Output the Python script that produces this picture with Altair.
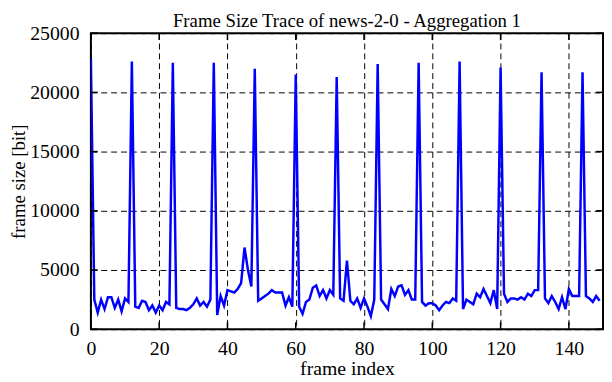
import altair as alt
import pandas as pd

# ---- data ----
frame_size = [
    22900, 2500, 1400, 2500, 1700, 2700, 2700, 1800, 2500, 1500, 2600, 2300,
    22600, 1900, 1800, 2400, 2300, 1600, 2000, 1400, 2000, 1600, 2300, 2100,
    22500, 1800, 1700, 1700, 1600, 1800, 2100, 2600, 2000, 2300, 1900, 2500,
    22500, 1200, 2800, 2000, 3300, 3200, 3100, 3400, 3900, 6900, 5000, 3600,
    22000, 2400, 2600, 2800, 3000, 3300, 3100, 3100, 3100, 2000, 2700, 1900,
    21500, 1900, 1300, 2300, 2500, 3500, 3700, 2800, 3300, 2600, 3300, 2900,
    21300, 2600, 2400, 5800, 2400, 2100, 2600, 1800, 2600, 1900, 1100, 2500,
    22400, 2500, 2100, 1700, 3400, 2800, 3600, 3700, 2900, 3300, 2500, 2500,
    22500, 2300, 2000, 2200, 2200, 2000, 1600, 2000, 2300, 2200, 2600, 2400,
    22600, 1700, 2500, 2300, 2100, 3000, 2700, 3400, 2800, 2200, 3300, 1700,
    22100, 3000, 2300, 2600, 2600, 2500, 2700, 2500, 3000, 2800, 3300, 3300,
    21700, 2600, 2200, 2800, 2300, 1700, 2700, 1700, 3400, 2800, 2800, 2800,
    21700, 2800, 2600, 2300, 2800, 2400,
]
frame_index = list(range(len(frame_size)))
x_ticks = [0, 20, 40, 60, 80, 100, 120, 140]
y_ticks = [0, 5000, 10000, 15000, 20000, 25000]
x_domain = [0, 150]
y_domain = [0, 25000]
title_text = ["Frame Size Trace of news-2-0 - Aggregation 1"]

FONT = "Liberation Serif"
W, H = 519, 300
TICK = 7

df = pd.DataFrame({"frame": frame_index, "size": frame_size})
xt = pd.DataFrame({"frame": x_ticks})
yt = pd.DataFrame({"size": y_ticks})
tt = pd.DataFrame({"title": title_text})

xscale = alt.Scale(domain=x_domain, nice=False, zero=False)
yscale = alt.Scale(domain=y_domain, nice=False)

x_axis = alt.Axis(
    values=x_ticks, title="frame index", grid=True, ticks=False, tickSize=0,
    domain=False, labelFlush=False, labelOverlap=False, format="d",
    labelFont=FONT, labelFontSize=20, labelColor="black",
    labelBaseline="alphabetic", labelPadding=26,
    titleFont=FONT, titleFontSize=20, titleFontWeight="normal", titleColor="black",
    titleBaseline="alphabetic", titleX=W / 2, titleY=46, titleAlign="center",
    gridColor="black", gridDash=[6, 4], gridWidth=1, gridOpacity=1,
)
y_axis = alt.Axis(
    values=y_ticks, title="frame size [bit]", grid=True, ticks=False, tickSize=0,
    domain=False, labelFlush=False, labelOverlap=False, format="d",
    labelFont=FONT, labelFontSize=20, labelColor="black",
    labelBaseline="middle", labelPadding=12,
    titleFont=FONT, titleFontSize=19, titleFontWeight="normal", titleColor="black",
    titleBaseline="alphabetic", titleX=-67, titleY=H / 2, titleAlign="center",
    titleAngle=270,
    gridColor="black", gridDash=[6, 4], gridWidth=1, gridOpacity=1,
)

line = alt.Chart(df).mark_line(color="#0000ff", strokeWidth=2.5, clip=True).encode(
    x=alt.X("frame:Q", scale=xscale, axis=x_axis),
    y=alt.Y("size:Q", scale=yscale, axis=y_axis),
)

x_bottom = alt.Chart(xt).mark_rule(color="black", strokeWidth=1.5).encode(
    x=alt.X("frame:Q", scale=xscale, axis=x_axis), y=alt.value(H), y2=alt.value(H - TICK)
)
x_top = alt.Chart(xt).mark_rule(color="black", strokeWidth=1.5).encode(
    x=alt.X("frame:Q", scale=xscale, axis=x_axis), y=alt.value(0), y2=alt.value(TICK)
)
y_left = alt.Chart(yt).mark_rule(color="black", strokeWidth=1.5).encode(
    y=alt.Y("size:Q", scale=yscale, axis=y_axis), x=alt.value(0), x2=alt.value(TICK)
)
y_right = alt.Chart(yt).mark_rule(color="black", strokeWidth=1.5).encode(
    y=alt.Y("size:Q", scale=yscale, axis=y_axis), x=alt.value(W), x2=alt.value(W - TICK)
)

title = alt.Chart(tt).mark_text(
    font=FONT, fontSize=19, color="black", align="center", baseline="alphabetic"
).encode(text="title:N", x=alt.value(W / 2), y=alt.value(-6))

chart = (
    alt.layer(line, x_bottom, x_top, y_left, y_right, title)
    .properties(
        width=W,
        height=H,
        background="white",
        autosize=alt.AutoSizeParams(type="none"),
        padding={"left": 84, "top": 23, "right": 1, "bottom": 51},
    )
    .configure_view(stroke="black", strokeWidth=2)
)

chart.save("out.html", embed_options={"renderer": "svg", "actions": False})
